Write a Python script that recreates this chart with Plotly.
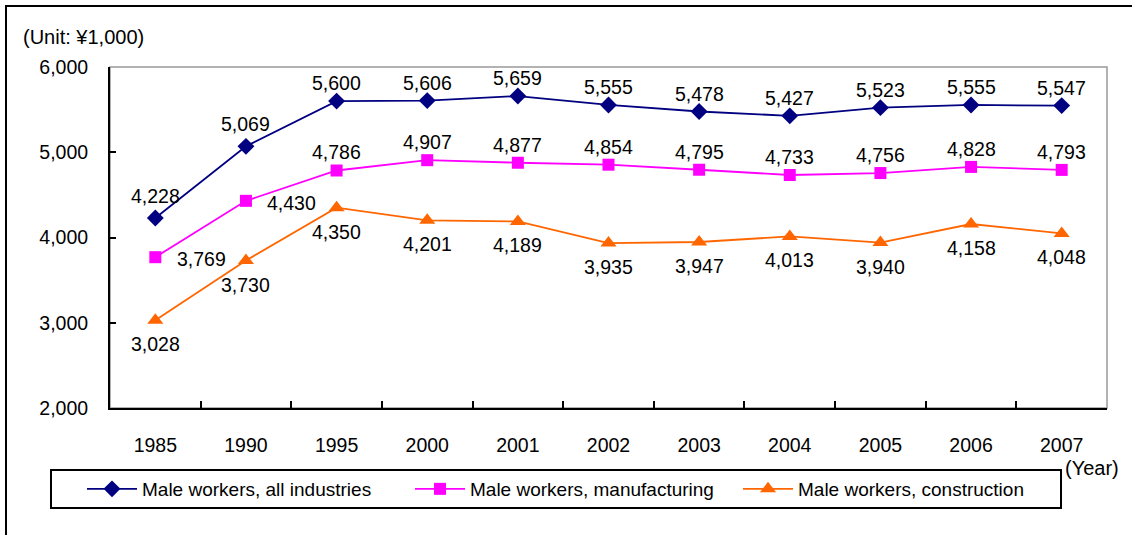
import plotly.graph_objects as go

years = ["1985", "1990", "1995", "2000", "2001", "2002", "2003", "2004", "2005", "2006", "2007"]
all_industries = [4228, 5069, 5600, 5606, 5659, 5555, 5478, 5427, 5523, 5555, 5547]
manufacturing = [3769, 4430, 4786, 4907, 4877, 4854, 4795, 4733, 4756, 4828, 4793]
construction = [3028, 3730, 4350, 4201, 4189, 3935, 3947, 4013, 3940, 4158, 4048]
names = ["Male workers, all industries", "Male workers, manufacturing", "Male workers, construction"]
y_ticks = [2000, 3000, 4000, 5000, 6000]

W, H = 1132, 535
L, R, T, B = 110, 1107, 67, 408
pw, ph = R - L, B - T

def px(x):
    return (x - L) / pw

def py(y):
    return (B - y) / ph

FONT = "Liberation Sans, Arial, sans-serif"
FS = 19.5

series = [
    (names[0], all_industries, "#000080", "diamond", 13),
    (names[1], manufacturing, "#FF00FF", "square", 12),
    (names[2], construction, "#FF6600", "triangle-up", 14),
]

fig = go.Figure()
for name, vals, color, sym, size in series:
    fig.add_trace(go.Scatter(
        x=years, y=vals, name=name, mode="lines+markers",
        line=dict(color=color, width=1.8),
        marker=dict(symbol=sym, size=size, color=color),
    ))

annotations = []
# data labels (category axis -> use category index for annotation x)
for i, v in enumerate(all_industries):
    annotations.append(dict(x=i, y=v, text=f"{v:,}", showarrow=False,
                            yshift=22 if i < 2 else 18, font=dict(size=FS)))
for i, v in enumerate(manufacturing):
    if i < 2:
        annotations.append(dict(x=i, y=v, text=f"{v:,}", showarrow=False,
                                xshift=46, yshift=-2, font=dict(size=FS)))
    else:
        annotations.append(dict(x=i, y=v, text=f"{v:,}", showarrow=False,
                                yshift=18, font=dict(size=FS)))
for i, v in enumerate(construction):
    annotations.append(dict(x=i, y=v, text=f"{v:,}", showarrow=False,
                            yshift=-24, font=dict(size=FS)))

annotations += [
    dict(text="(Unit: ¥1,000)", xref="paper", yref="paper", x=px(21), y=py(37),
         xanchor="left", yanchor="middle", showarrow=False, font=dict(size=20)),
    dict(text="(Year)", xref="paper", yref="paper", x=px(1063), y=py(468),
         xanchor="left", yanchor="middle", showarrow=False, font=dict(size=20)),
]

fig.update_layout(
    width=W, height=H,
    margin=dict(l=L, r=W - R, t=T, b=H - B, autoexpand=False),
    paper_bgcolor="white", plot_bgcolor="white",
    font=dict(family=FONT, size=FS, color="black"),
    showlegend=True,
    legend=dict(
        orientation="h", x=px(82), y=py(489), xanchor="left", yanchor="middle",
        borderwidth=0, bgcolor="rgba(0,0,0,0)",
        font=dict(size=19, family=FONT), itemwidth=50,
        entrywidth=263, entrywidthmode="pixels",
    ),
    xaxis=dict(
        type="category", tickson="boundaries", ticks="inside", ticklen=7,
        tickcolor="black", tickwidth=1.5, showline=True, linecolor="black", linewidth=2,
        showgrid=False, ticklabelstandoff=19, tickfont=dict(size=FS),
        range=[-0.5, len(years) - 0.5],
    ),
    yaxis=dict(
        range=[2000, 6000], tickvals=y_ticks, ticktext=[f"{v:,}" for v in y_ticks],
        ticks="inside", ticklen=6, tickcolor="black", tickwidth=1.5,
        showline=True, linecolor="black", linewidth=2, showgrid=False,
        ticklabelstandoff=16, tickfont=dict(size=FS), zeroline=False,
    ),
    shapes=[
        dict(type="rect", xref="paper", yref="paper", x0=0, x1=1, y0=0, y1=1,
             line=dict(color="#999999", width=1.5), layer="below"),
        dict(type="rect", xref="paper", yref="paper", x0=px(6), x1=px(1140), y0=py(545), y1=py(6),
             line=dict(color="black", width=2), layer="below"),
        dict(type="rect", xref="paper", yref="paper", x0=px(51), x1=px(1061), y0=py(508), y1=py(470),
             line=dict(color="black", width=2), layer="below"),
    ],
    annotations=annotations,
)

fig.write_html("out.html", config={"displayModeBar": False},
               post_script="document.body.style.margin='0px';")
